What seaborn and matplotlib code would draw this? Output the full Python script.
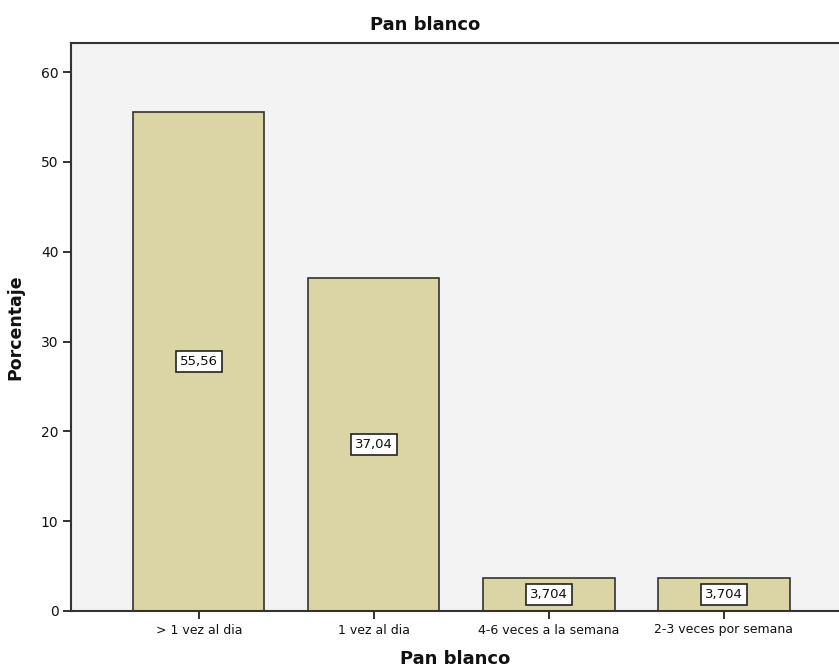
import matplotlib
matplotlib.use("Agg")
import matplotlib.pyplot as plt
import seaborn as sns
import pandas as pd

categorias = ["> 1 vez al dia", "1 vez al dia", "4-6 veces a la semana", "2-3 veces por semana"]
porcentajes = [55.56, 37.04, 3.704, 3.704]
etiquetas = ["55,56", "37,04", "3,704", "3,704"]
yticks = [0, 10, 20, 30, 40, 50, 60]

df = pd.DataFrame({"Pan blanco": categorias, "Porcentaje": porcentajes})

sns.set_theme(style="white")
plt.rcParams["font.family"] = ["DejaVu Sans"]
plt.rcParams["text.color"] = "#111111"
plt.rcParams["axes.labelcolor"] = "#111111"
plt.rcParams["xtick.color"] = "#222222"
plt.rcParams["ytick.color"] = "#222222"

fig = plt.figure(figsize=(8.39, 6.70), dpi=100)
ax = fig.add_axes([71 / 839, 59 / 670, (839 - 71) / 839, (611 - 43) / 670])
ax.set_facecolor("#f3f3f3")

sns.barplot(data=df, x="Pan blanco", y="Porcentaje", order=categorias,
            color="#dbd5a6", saturation=1, width=0.75,
            edgecolor="#333333", linewidth=1.2, ax=ax)

for i, (v, t) in enumerate(zip(porcentajes, etiquetas)):
    ax.text(i, v / 2, t, ha="center", va="center", fontsize=9.5, color="#111111",
            bbox=dict(boxstyle="square,pad=0.3", facecolor="white",
                      edgecolor="#222222", linewidth=1.2))

ax.set_xlim(-0.73, 3 + (839 - 724) / 175)
ax.set_ylim(0, 63.25)
ax.set_yticks(yticks)
ax.set_yticklabels([str(t) for t in yticks], fontsize=10)
ax.set_xticks(range(len(categorias)))
ax.set_xticklabels(categorias, fontsize=9)

ax.tick_params(axis="both", which="major", length=6, width=1.3, color="#222222",
               direction="out", left=True, bottom=True, pad=3)
ax.tick_params(axis="x", labelcolor="#111111")
ax.tick_params(axis="y", labelcolor="#111111")

for side in ["left", "bottom", "top"]:
    ax.spines[side].set_visible(True)
    ax.spines[side].set_color("#333333")
    ax.spines[side].set_linewidth(1.5)
ax.spines["right"].set_visible(False)

ax.set_xlabel("Pan blanco", fontsize=13, fontweight="bold", labelpad=10)
ax.set_ylabel("Porcentaje", fontsize=12.5, fontweight="bold", labelpad=12)
ax.set_title("Pan blanco", fontsize=13, fontweight="bold", pad=9, x=(425 - 71) / (839 - 71))

fig.savefig("out.png", dpi=100)
